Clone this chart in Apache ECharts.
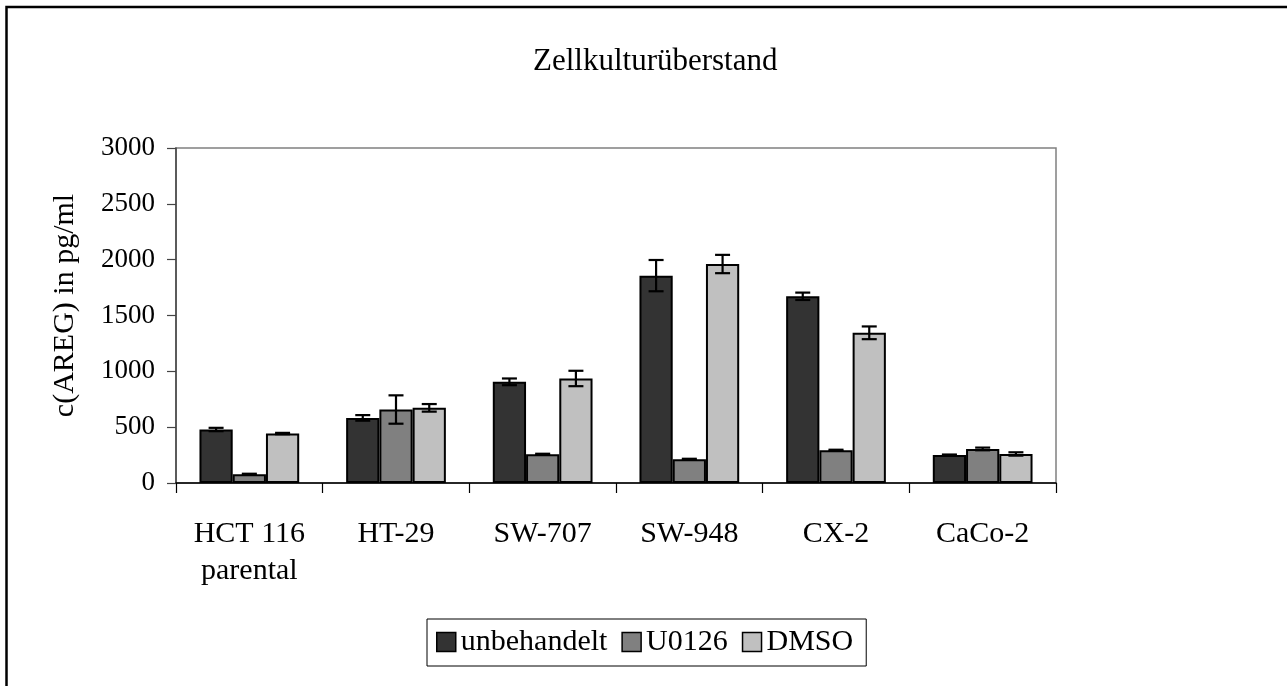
<!DOCTYPE html>
<html>
<head>
<meta charset="utf-8">
<script src="https://cdn.jsdelivr.net/npm/echarts@6/dist/echarts.min.js"></script>
<style>
  html, body { margin: 0; padding: 0; background: #fff; }
  #chart { width: 1287px; height: 686px; }
</style>
</head>
<body>
<div id="chart"></div>
<script>
// Zelllinien
const categories = ["HCT 116\nparental", "HT-29", "SW-707", "SW-948", "CX-2", "CaCo-2"];
// Mittelwerte in pg/ml
const unbehandelt = [479, 583, 906, 1857, 1672, 251];
const u0126 = [78, 658, 257, 212, 293, 305];
const dmso = [443, 673, 936, 1961, 1345, 260];
// Fehlerbalken (+/-)
const unbehandeltErr = [15, 25, 30, 140, 33, 4];
const u0126Err = [5, 127, 5, 5, 5, 12];
const dmsoErr = [6, 34, 69, 82, 57, 15];
const yTicks = [0, 500, 1000, 1500, 2000, 2500, 3000];

const font = "'Liberation Serif', 'Times New Roman', serif";
const catGap = 0.32;

function barSeries(name, data, color) {
  return {
    name: name,
    type: "bar",
    data: data,
    barGap: "0%",
    barCategoryGap: catGap * 100 + "%",
    itemStyle: { color: color, borderColor: "#000", borderWidth: 2 }
  };
}

// Fehlerbalken als custom series, an die Position des jeweiligen Balkens gesetzt
function errSeries(values, errs, idx) {
  return {
    type: "custom",
    z: 10,
    silent: true,
    data: values.map((v, i) => [i, v, errs[i]]),
    renderItem(params, api) {
      const i = api.value(0), v = api.value(1), e = api.value(2);
      const catW = api.size([1, 0])[0];
      const barW = catW * (1 - catGap) / 3;
      const cx = api.coord([i, v])[0] + (idx - 1) * barW;
      const yTop = api.coord([i, v + e])[1];
      const yBot = api.coord([i, v - e])[1];
      const cap = 7.5;
      const style = { stroke: "#000", lineWidth: 2.2 };
      return {
        type: "group",
        children: [
          { type: "line", shape: { x1: cx, y1: yTop, x2: cx, y2: yBot }, style: style },
          { type: "line", shape: { x1: cx - cap, y1: yTop, x2: cx + cap, y2: yTop }, style: style },
          { type: "line", shape: { x1: cx - cap, y1: yBot, x2: cx + cap, y2: yBot }, style: style }
        ]
      };
    }
  };
}

const chart = echarts.init(document.getElementById("chart"));
const option = {
  animation: false,
  backgroundColor: "#fff",
  textStyle: { fontFamily: font, color: "#000" },
  title: {
    text: "Zellkulturüberstand",
    left: 528,
    top: 41,
    textStyle: { fontFamily: font, fontSize: 31, fontWeight: "normal", color: "#000" }
  },
  graphic: [
    {
      type: "rect",
      shape: { x: 6.5, y: 7, width: 1400, height: 800 },
      style: { fill: "none", stroke: "#000", lineWidth: 2.5 }
    }
  ],
  legend: {
    data: ["unbehandelt", "U0126", "DMSO"],
    left: 427,
    top: 619,
    padding: [8, 13, 9, 9],
    itemGap: 14,
    itemWidth: 19,
    itemHeight: 19,
    borderColor: "#000",
    borderWidth: 1,
    icon: "rect",
    itemStyle: { borderColor: "#000", borderWidth: 1.5 },
    textStyle: { fontFamily: font, fontSize: 30, color: "#000" }
  },
  grid: {
    left: 176,
    top: 148,
    right: 231,
    bottom: 203,
    show: true,
    borderColor: "#808080",
    borderWidth: 1.5
  },
  xAxis: {
    type: "category",
    data: categories,
    axisLine: { lineStyle: { color: "#000", width: 1.5 } },
    axisTick: { show: true, length: 10, lineStyle: { color: "#000", width: 1.2 } },
    axisLabel: { fontFamily: font, fontSize: 30, lineHeight: 37, color: "#000", margin: 33 }
  },
  yAxis: {
    type: "value",
    min: yTicks[0],
    max: yTicks[yTicks.length - 1],
    interval: 500,
    name: "c(AREG) in pg/ml",
    nameLocation: "middle",
    nameRotate: 90,
    nameGap: 96,
    nameTextStyle: { fontFamily: font, fontSize: 30, color: "#000", padding: [0, 0, 0, 20] },
    splitLine: { show: false },
    axisLine: { show: true, lineStyle: { color: "#444", width: 1.5 } },
    axisTick: { show: true, length: 9, lineStyle: { color: "#444", width: 1.2 } },
    axisLabel: {
      fontFamily: font,
      fontSize: 27,
      color: "#000",
      margin: 21,
      formatter: (v) => String(v)
    }
  },
  series: [
    barSeries("unbehandelt", unbehandelt, "#333333"),
    barSeries("U0126", u0126, "#808080"),
    barSeries("DMSO", dmso, "#c0c0c0"),
    errSeries(unbehandelt, unbehandeltErr, 0),
    errSeries(u0126, u0126Err, 1),
    errSeries(dmso, dmsoErr, 2)
  ]
};
chart.setOption(option);
</script>
</body>
</html>
